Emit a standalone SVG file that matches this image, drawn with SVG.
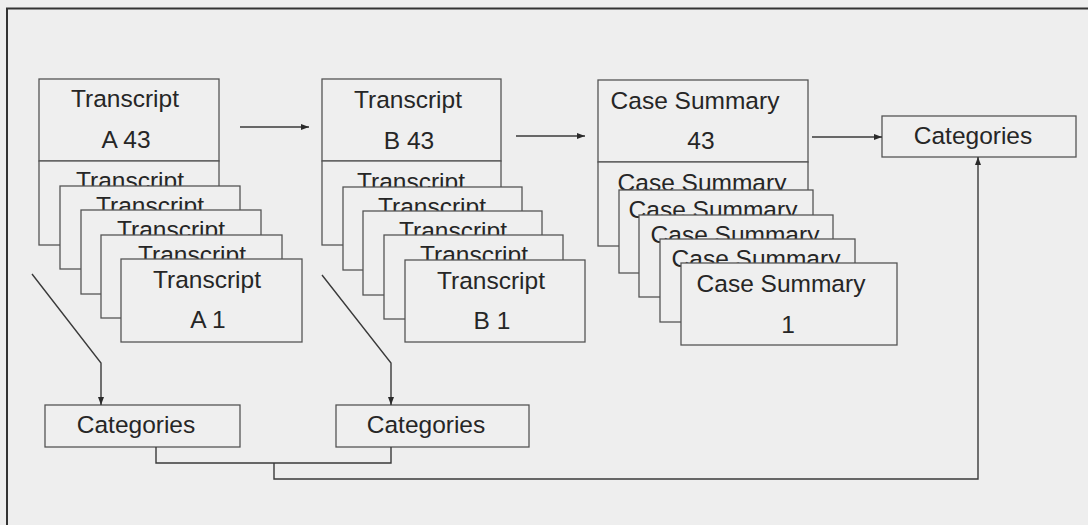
<svg xmlns="http://www.w3.org/2000/svg" width="1088" height="525" viewBox="0 0 1088 525">
  <style>
    .bg { fill: #eeeeee; }
    .box { fill: #efefef; stroke: #555555; stroke-width: 1.3; }
    .lbl { font-family: "Liberation Sans", Arial, sans-serif; font-size: 24.5px; fill: #262626; text-anchor: middle; }
    .wire { fill: none; stroke: #3a3a3a; stroke-width: 1.4; }
    .frame { fill: none; stroke: #333333; stroke-width: 2; }
  </style>
  <defs>
    <marker id="head" viewBox="0 0 8 6" refX="8" refY="3" markerWidth="8" markerHeight="6" markerUnits="userSpaceOnUse" orient="auto">
      <path d="M0,0 L8,3 L0,6 Z" fill="#2a2a2a"/>
    </marker>
  </defs>

  <rect class="bg" x="0" y="0" width="1088" height="525"/>
  <path class="frame" d="M7,525 V8.5 H1088"/>

  <!-- Transcript A stack -->
  <g id="transcripts-a">
    <rect class="box" x="39" y="79" width="180" height="82"/>
    <text class="lbl" x="125" y="107">Transcript</text>
    <text class="lbl" x="126" y="148">A 43</text>
    <rect class="box" x="39" y="161" width="180" height="84"/>
    <text class="lbl" x="130" y="189">Transcript</text>
    <rect class="box" x="60" y="186" width="180" height="83"/>
    <text class="lbl" x="150" y="214">Transcript</text>
    <rect class="box" x="81" y="210" width="180" height="84"/>
    <text class="lbl" x="171" y="238">Transcript</text>
    <rect class="box" x="101" y="235" width="181" height="83"/>
    <text class="lbl" x="192" y="263">Transcript</text>
    <rect class="box" x="121" y="259" width="181" height="83"/>
    <text class="lbl" x="207" y="288">Transcript</text>
    <text class="lbl" x="208" y="328">A 1</text>
  </g>

  <!-- Transcript B stack -->
  <g id="transcripts-b">
    <rect class="box" x="322" y="79" width="179" height="82"/>
    <text class="lbl" x="408" y="108">Transcript</text>
    <text class="lbl" x="409" y="149">B 43</text>
    <rect class="box" x="322" y="161" width="179" height="84"/>
    <text class="lbl" x="411" y="190">Transcript</text>
    <rect class="box" x="343" y="187" width="179" height="83"/>
    <text class="lbl" x="432" y="215">Transcript</text>
    <rect class="box" x="363" y="211" width="179" height="84"/>
    <text class="lbl" x="453" y="239">Transcript</text>
    <rect class="box" x="384" y="235" width="179" height="84"/>
    <text class="lbl" x="474" y="263">Transcript</text>
    <rect class="box" x="405" y="260" width="180" height="82"/>
    <text class="lbl" x="491" y="289">Transcript</text>
    <text class="lbl" x="492" y="329">B 1</text>
  </g>

  <!-- Case summary stack -->
  <g id="case-summaries">
    <rect class="box" x="598" y="80" width="210" height="82"/>
    <text class="lbl" x="695" y="109">Case Summary</text>
    <text class="lbl" x="701" y="149">43</text>
    <rect class="box" x="598" y="162" width="210" height="84"/>
    <text class="lbl" x="702" y="191">Case Summary</text>
    <rect class="box" x="619" y="190" width="194" height="83"/>
    <text class="lbl" x="713" y="218">Case Summary</text>
    <rect class="box" x="639" y="215" width="194" height="82"/>
    <text class="lbl" x="735" y="243">Case Summary</text>
    <rect class="box" x="660" y="239" width="195" height="83"/>
    <text class="lbl" x="756" y="267">Case Summary</text>
    <rect class="box" x="681" y="263" width="216" height="82"/>
    <text class="lbl" x="781" y="292">Case Summary</text>
    <text class="lbl" x="788" y="333">1</text>
  </g>

  <!-- Category boxes -->
  <g id="categories-final">
    <rect class="box" x="882" y="116" width="194" height="41"/>
    <text class="lbl" x="973" y="144">Categories</text>
  </g>
  <g id="categories-a">
    <rect class="box" x="45" y="405" width="195" height="42"/>
    <text class="lbl" x="136" y="433">Categories</text>
  </g>
  <g id="categories-b">
    <rect class="box" x="336" y="405" width="193" height="42"/>
    <text class="lbl" x="426" y="433">Categories</text>
  </g>

  <!-- Connectors -->
  <g id="connectors">
    <line class="wire" x1="240" y1="127" x2="309" y2="127" marker-end="url(#head)"/>
    <line class="wire" x1="516" y1="136" x2="585" y2="136" marker-end="url(#head)"/>
    <line class="wire" x1="812" y1="137" x2="882" y2="137" marker-end="url(#head)"/>
    <path class="wire" d="M32,274 L101,363 L101,405" marker-end="url(#head)"/>
    <path class="wire" d="M322,275 L391,363 L391,405" marker-end="url(#head)"/>
    <path class="wire" d="M156,447 V463 H391 V447"/>
    <path class="wire" d="M274,463 V479 H978 V157" marker-end="url(#head)"/>
  </g>
</svg>
